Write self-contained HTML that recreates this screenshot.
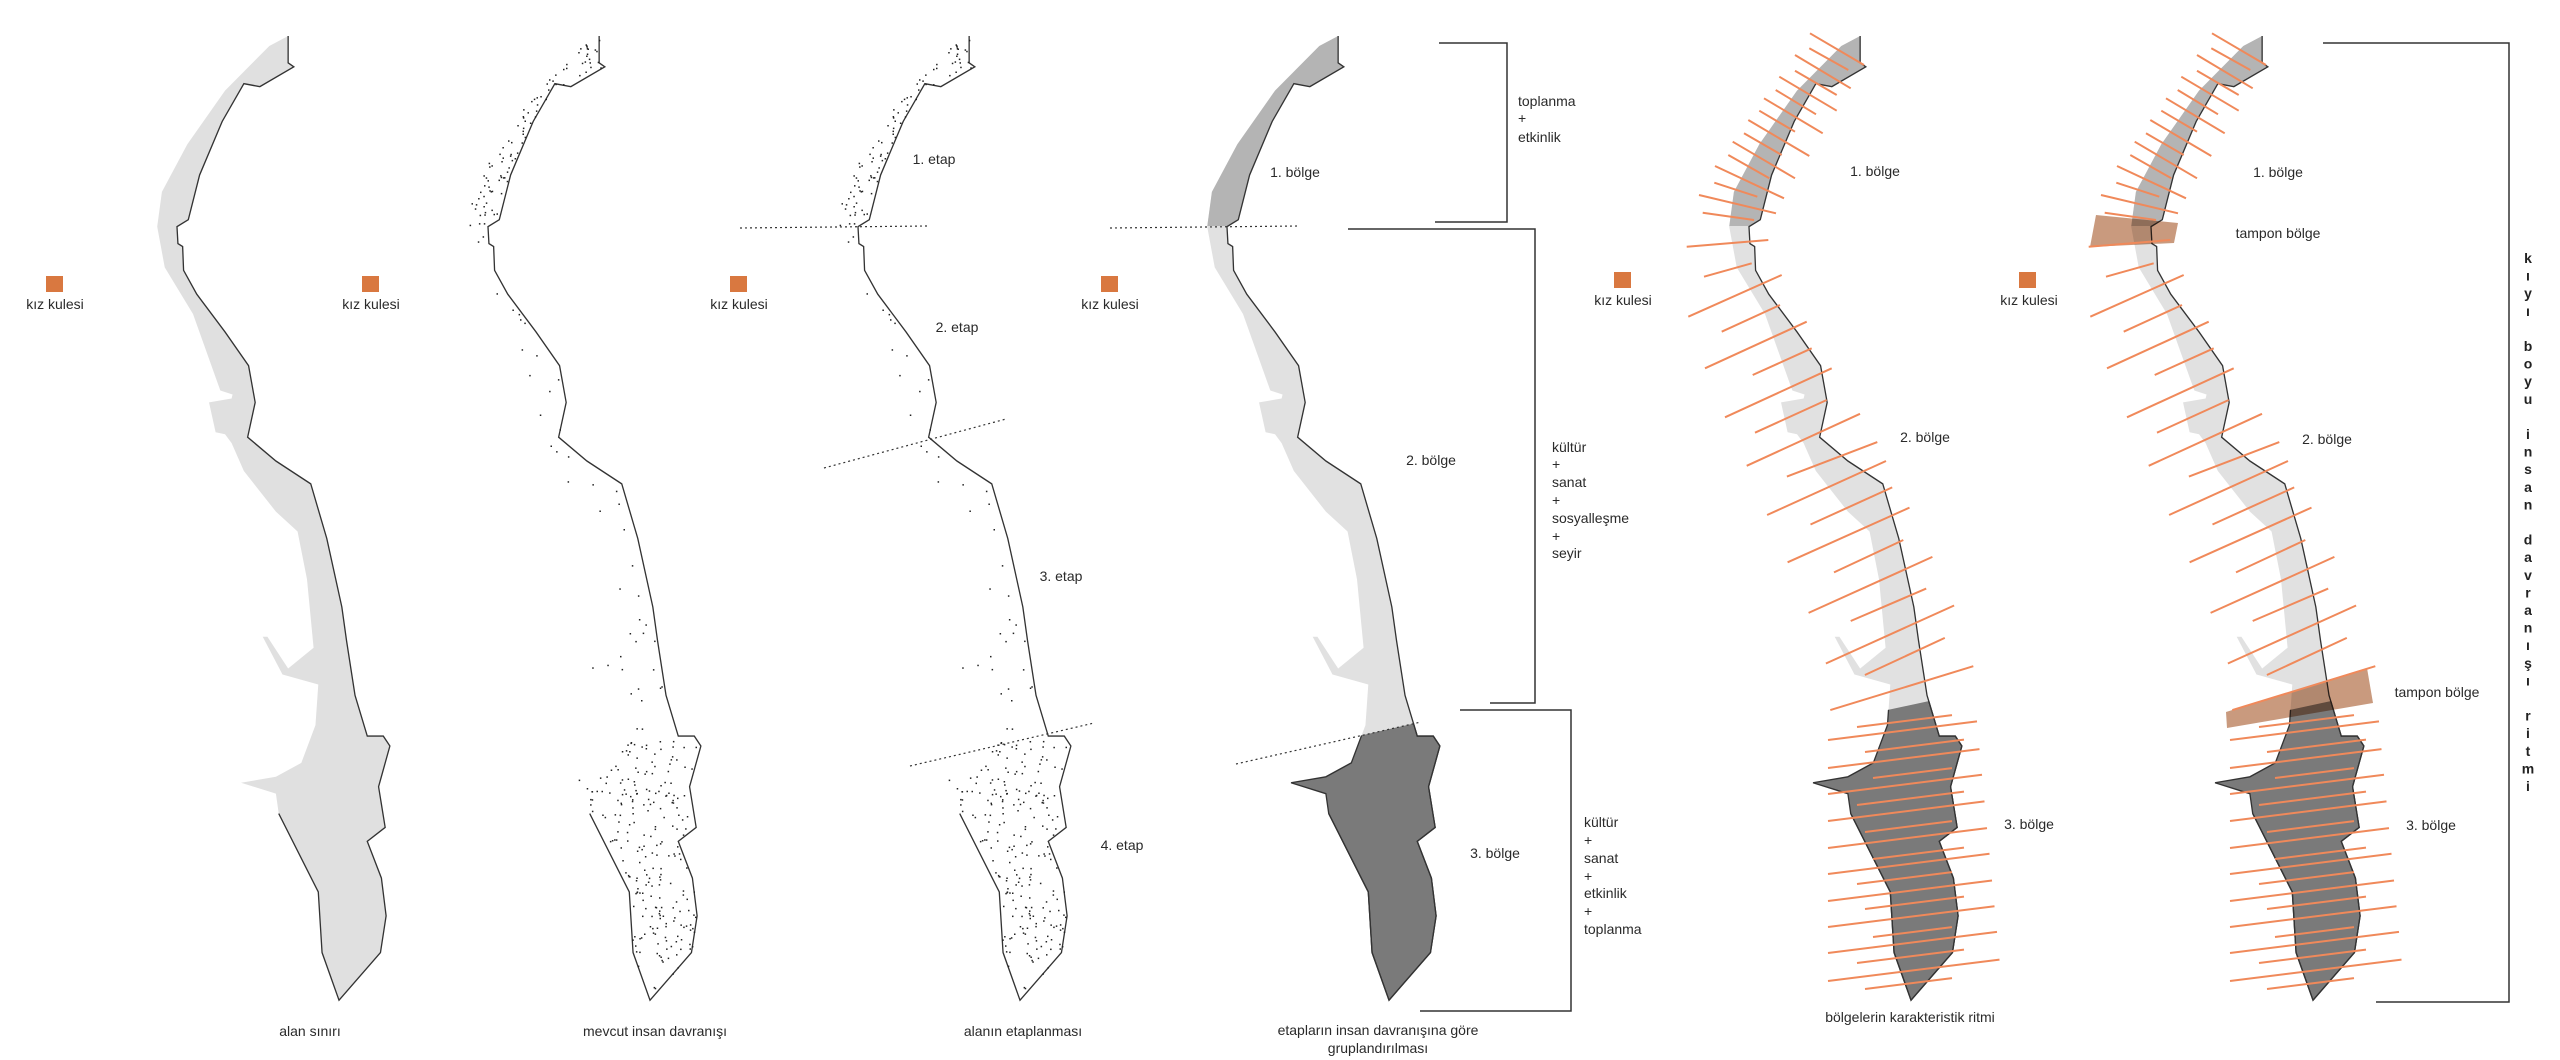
<!DOCTYPE html>
<html><head><meta charset="utf-8">
<style>
html,body{margin:0;padding:0;background:#fff;}
svg{display:block;}
text{font-family:"Liberation Sans",sans-serif;font-size:14px;fill:#2a2a2a;}
.b{font-weight:bold;font-size:14px;fill:#222;}
</style></head>
<body>
<svg id="s" width="2560" height="1060" viewBox="0 0 2560 1060" xmlns="http://www.w3.org/2000/svg">
<defs>
<path id="fill" transform="matrix(0.942,0,0,0.993,22.5,-4.7)" d="M282,41 L282,68 L288,72 L252,92 L235,89 L212,127 L188,181 L176,226 L164,233 L165,250 L170,253 L171,277 L185,301 L215,339 L240,373 L247,410 L239,445 L269,469 L306,492 L323,547 L339,616 L344,650 L353,705 L366,746 L383,746 L390,756 L378,797 L385,838 L366,852 L381,889 L386,927 L380,964 L336,1012 L318,964 L314,903 L272,824 L269,804 L232,793 L269,787 L296,773 L311,735 L314,694 L276,684 L255,646 L260,646 L282,678 L309,657 L302,588 L292,540 L269,520 L235,479 L222,451 L215,442 L205,440 L198,410 L222,406 L223,402 L210,398 L181,321 L151,274 L143,233 L148,198 L175,150 L215,96 L262,51 Z"/>
<path id="coast" transform="matrix(0.942,0,0,0.993,22.5,-4.7)" d="M282,41 L282,68 L288,72 L252,92 L235,89 L212,127 L188,181 L176,226 L164,233 L165,250 L170,253 L171,277 L185,301 L215,339 L240,373 L247,410 L239,445 L269,469 L306,492 L323,547 L339,616 L344,650 L353,705 L366,746 L383,746 L390,756 L378,797 L385,838 L366,852 L381,889 L386,927 L380,964 L336,1012 L318,964 L314,903 L272,824" fill="none" stroke="#333" stroke-width="1.4"/>
<clipPath id="c1"><rect x="0" y="0" width="450" height="226"/></clipPath>
<clipPath id="c3"><polygon points="0,778 450,681 450,1100 0,1100"/></clipPath>
<clipPath id="c4"><polygon points="0,806 450,704 450,1100 0,1100"/></clipPath>
<g id="zoned">
<use href="#fill" fill="#e1e1e1"/>
<use href="#fill" fill="#b4b4b4" clip-path="url(#c1)"/>
<use href="#fill" fill="#7a7a7a" stroke="#333" stroke-width="1.4" clip-path="url(#c3)"/>
<use href="#coast"/>
</g>
<g id="zoned4">
<use href="#fill" fill="#e1e1e1"/>
<use href="#fill" fill="#b4b4b4" clip-path="url(#c1)"/>
<use href="#fill" fill="#7a7a7a" stroke="#333" stroke-width="1.4" clip-path="url(#c4)"/>
<use href="#coast"/>
</g>
</defs>

<g>
<use href="#fill" fill="#e0e0e0"/>
<use href="#coast"/>
</g>
<g transform="translate(311,0)" id="p2">
<use href="#coast"/>
<g id="dots"></g>
</g>
<g transform="translate(681,0)">
<use href="#coast"/>
<use href="#dots"/>
</g>
<g stroke="#333" stroke-width="1.2" stroke-dasharray="2,3">
<line x1="740" y1="228" x2="928" y2="226"/>
<line x1="824" y1="468" x2="1006" y2="419"/>
<line x1="910" y1="766" x2="1094" y2="723"/>
</g>
<g transform="translate(1050,0)"><use href="#zoned4"/></g>
<g stroke="#333" stroke-width="1.2" stroke-dasharray="2,3">
<line x1="1110" y1="228" x2="1299" y2="226"/>
<line x1="1236" y1="764" x2="1421" y2="722"/>
</g>
<g fill="none" stroke="#333" stroke-width="1.5">
<polyline points="1439,43 1507,43 1507,222 1435,222"/>
<polyline points="1348,229 1535,229 1535,703 1490,703"/>
<polyline points="1460,710 1571,710 1571,1011 1420,1011"/>
<polyline points="2323,43 2509,43 2509,1002 2376,1002"/>
</g>
<g transform="translate(1572,0)"><use href="#zoned"/><g id="orng"></g></g>
<g transform="translate(1974,0)"><use href="#zoned"/>
<polygon points="122,215 204,223 200,243 116,247" fill="#c99a7e" style="mix-blend-mode:multiply"/>
<polygon points="252,712 393,668 399,703 253,728" fill="#c99a7e" style="mix-blend-mode:multiply"/>
<use href="#orng"/>
</g>

<g fill="#d97840">
<rect x="46" y="276" width="17" height="16"/>
<rect x="362" y="276" width="17" height="16"/>
<rect x="730" y="276" width="17" height="16"/>
<rect x="1101" y="276" width="17" height="16"/>
<rect x="1614" y="272" width="17" height="16"/>
<rect x="2019" y="272" width="17" height="16"/>
</g>
<g text-anchor="middle">
<text x="55" y="309">kız kulesi</text>
<text x="371" y="309">kız kulesi</text>
<text x="739" y="309">kız kulesi</text>
<text x="1110" y="309">kız kulesi</text>
<text x="1623" y="305">kız kulesi</text>
<text x="2029" y="305">kız kulesi</text>

<text x="310" y="1036">alan sınırı</text>
<text x="655" y="1036">mevcut insan davranışı</text>
<text x="1023" y="1036">alanın etaplanması</text>
<text x="1378" y="1035">etapların insan davranışına göre</text>
<text x="1378" y="1053">gruplandırılması</text>
<text x="1910" y="1022">bölgelerin karakteristik ritmi</text>

<text x="934" y="164">1. etap</text>
<text x="957" y="332">2. etap</text>
<text x="1061" y="581">3. etap</text>
<text x="1122" y="850">4. etap</text>

<text x="1295" y="177">1. bölge</text>
<text x="1431" y="465">2. bölge</text>
<text x="1495" y="858">3. bölge</text>

<text x="1875" y="176">1. bölge</text>
<text x="1925" y="442">2. bölge</text>
<text x="2029" y="829">3. bölge</text>

<text x="2278" y="177">1. bölge</text>
<text x="2278" y="238">tampon bölge</text>
<text x="2327" y="444">2. bölge</text>
<text x="2437" y="697">tampon bölge</text>
<text x="2431" y="830">3. bölge</text>
</g>
<g>
<text x="1518" y="106">toplanma</text><text x="1518" y="123">+</text><text x="1518" y="142">etkinlik</text>
<text x="1552" y="452">kültür</text><text x="1552" y="469">+</text><text x="1552" y="487">sanat</text><text x="1552" y="505">+</text><text x="1552" y="523">sosyalleşme</text><text x="1552" y="541">+</text><text x="1552" y="558">seyir</text>
<text x="1584" y="827">kültür</text><text x="1584" y="845">+</text><text x="1584" y="863">sanat</text><text x="1584" y="881">+</text><text x="1584" y="898">etkinlik</text><text x="1584" y="916">+</text><text x="1584" y="934">toplanma</text>
</g>
<g id="vt" text-anchor="middle"></g>
</svg>
<script>
(function(){
var NS="http://www.w3.org/2000/svg";
function el(n,a,p){var e=document.createElementNS(NS,n);for(var k in a)e.setAttribute(k,a[k]);p.appendChild(e);return e;}
var s="kıyı boyu insan davranışı ritmi",vt=document.getElementById("vt"),y=263;
for(var i=0;i<s.length;i++){if(s[i]!==" "){var t=el("text",{x:2528,y:y.toFixed(1),"class":"b"},vt);t.textContent=s[i];}y+=17.6;}
var d=document.getElementById("fill").getAttribute("d").replace(/[MLZ]/g," ").trim().split(/\s+/).map(function(p){var q=p.split(",").map(Number);return [0.942*q[0]+22.5,0.993*q[1]-4.7];});
function inside(x,y){var c=false;for(var i=0,j=d.length-1;i<d.length;j=i++){var xi=d[i][0],yi=d[i][1],xj=d[j][0],yj=d[j][1];if(((yi>y)!=(yj>y))&&(x<(xj-xi)*(y-yi)/(yj-yi)+xi))c=!c;}return c;}
var seed=7;function r(){seed=(seed*16807)%2147483647;return (seed-1)/2147483646;}
var dots=document.getElementById("dots");
for(var n=0;n<30000;n++){var x=150+r()*250,yy=35+r()*975;if(!inside(x,yy))continue;var p;
if(yy<226)p=0.2;else if(yy>740)p=0.1;else p=0.02;
if(r()<p)el("rect",{x:x.toFixed(1),y:yy.toFixed(1),width:1.5,height:1.5,fill:"#222"},dots);}
var g=document.getElementById("orng"),L=[];
var z6=[[390,40,552,135],[388,85,505,150],[345,105,512,205],[345,152,470,225],[298,170,470,272],[287,210,408,283],[252,235,428,340],[238,272,345,335],[205,300,388,408],[192,340,305,405],[158,365,345,475],[145,405,268,475],[105,438,312,535],[103,488,232,530],[57,525,288,580],[68,578,222,600],[20,680,265,660],[72,770,215,730],[25,890,305,765],[125,935,300,855],[75,1045,380,905],[218,1065,395,985],[135,1192,455,1045],[225,1238,440,1140]];
z6.forEach(function(a){L.push([108+a[0]/3,20+a[1]/3,108+a[2]/3,20+a[3]/3]);});
var z2=[[237,690,420,613],[302,706,448,655],[270,763,462,683],[340,777,472,722],[303,833,500,752],[378,848,490,800],[337,908,537,825],[405,920,527,872],[365,983,572,897],[428,1000,557,945],[372,1052,603,987]];
z2.forEach(function(a){L.push([28+0.619*a[0],0.675*a[1],28+0.619*a[2],0.675*a[3]]);});
var lg=[740,768,794,821,848,874,901,927,953,981],sh=[727,752,778,805,832,859,884,909,937,963,989];
lg.forEach(function(v,i){var x2=405+i*2.5;L.push([256,v,x2,v-(x2-256)*0.125]);});
sh.forEach(function(v,i){var x1=285+(i%3)*8,x2=380+(i%2)*12;L.push([x1,v,x2,v-(x2-x1)*0.125]);});
L.forEach(function(a){el("line",{x1:a[0].toFixed(1),y1:a[1].toFixed(1),x2:a[2].toFixed(1),y2:a[3].toFixed(1),stroke:"#f0895a","stroke-width":2},g);});
})();
</script>
</body></html>
